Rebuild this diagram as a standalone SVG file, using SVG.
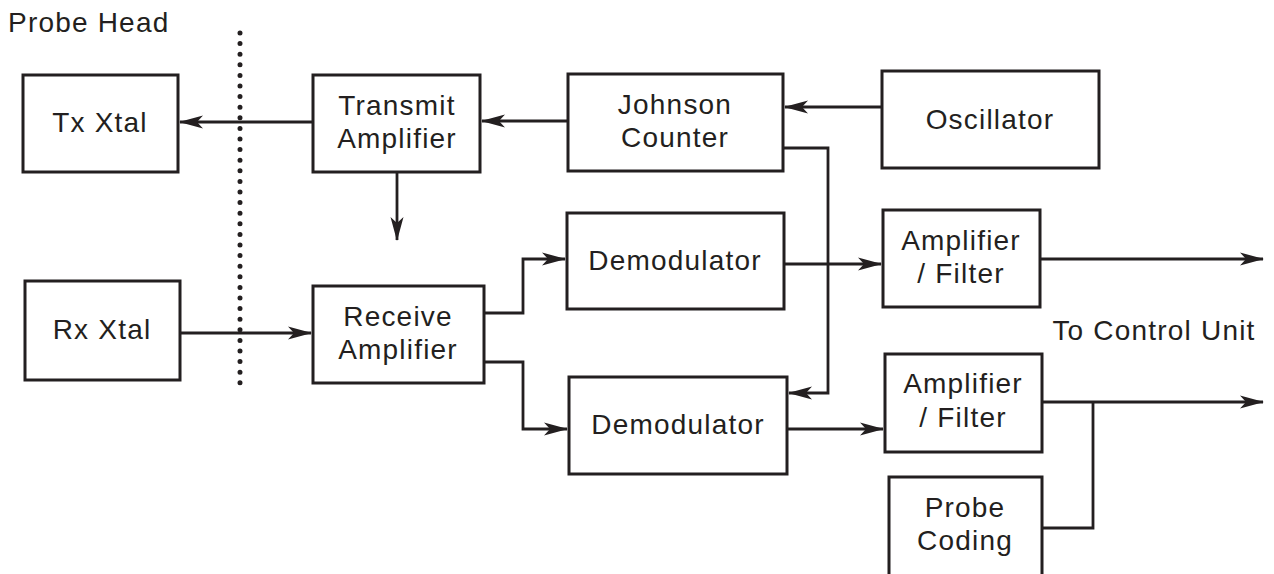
<svg xmlns="http://www.w3.org/2000/svg" width="1274" height="574" viewBox="0 0 1274 574">
<style>
.box{fill:#fff;stroke:#231f20;stroke-width:3}
.t{font-family:"Liberation Sans",Arial,sans-serif;font-size:28px;fill:#231f20;text-anchor:middle;letter-spacing:1.2px}
.w{fill:none;stroke:#231f20;stroke-width:2.8}
</style>
<defs>
<marker id="ah" viewBox="0 0 24 14" refX="23" refY="7" markerWidth="24" markerHeight="14" markerUnits="userSpaceOnUse" orient="auto">
<path d="M0,0.5 L24,7 L0,13.5 L6,7 Z" fill="#231f20"/>
</marker>
</defs>
<rect width="1274" height="574" fill="#fff"/>
<text class="t" x="8" y="32" style="text-anchor:start">Probe Head</text>
<text class="t" x="1154" y="340">To Control Unit</text>
<line x1="240" y1="33" x2="240" y2="393" stroke="#231f20" stroke-width="5" stroke-linecap="round" stroke-dasharray="0 10.6"/>
<g id="connectors">
<path class="w" d="M313,122 H180" marker-end="url(#ah)"/>
<path class="w" d="M568,121 H482" marker-end="url(#ah)"/>
<path class="w" d="M882,107 H785" marker-end="url(#ah)"/>
<path class="w" d="M397,172 V240" marker-end="url(#ah)"/>
<path class="w" d="M783,148 H828 V393 H789" marker-end="url(#ah)"/>
<path class="w" d="M180,333 H311" marker-end="url(#ah)"/>
<path class="w" d="M484,313 H523 V259 H565" marker-end="url(#ah)"/>
<path class="w" d="M484,362 H523 V429 H567" marker-end="url(#ah)"/>
<path class="w" d="M784,264 H881" marker-end="url(#ah)"/>
<path class="w" d="M787,429 H883" marker-end="url(#ah)"/>
<path class="w" d="M1040,259 H1263" marker-end="url(#ah)"/>
<path class="w" d="M1042,402 H1263" marker-end="url(#ah)"/>
<path class="w" d="M1042,528 H1093 V402"/>
</g>
<g id="tx-xtal"><rect class="box" x="23" y="75" width="155" height="97"/><text class="t" x="100" y="132">Tx Xtal</text></g>
<g id="transmit-amplifier"><rect class="box" x="313" y="75" width="167" height="97"/><text class="t" x="397" y="115">Transmit</text><text class="t" x="397" y="148">Amplifier</text></g>
<g id="johnson-counter"><rect class="box" x="568" y="74" width="215" height="97"/><text class="t" x="675" y="114">Johnson</text><text class="t" x="675" y="147">Counter</text></g>
<g id="oscillator"><rect class="box" x="882" y="71" width="217" height="97"/><text class="t" x="990" y="129">Oscillator</text></g>
<g id="demodulator-1"><rect class="box" x="567" y="213" width="217" height="96"/><text class="t" x="675" y="270">Demodulator</text></g>
<g id="amp-filter-1"><rect class="box" x="883" y="210" width="157" height="97"/><text class="t" x="961" y="250">Amplifier</text><text class="t" x="961" y="283">/ Filter</text></g>
<g id="rx-xtal"><rect class="box" x="25" y="281" width="155" height="99"/><text class="t" x="102" y="339">Rx Xtal</text></g>
<g id="receive-amplifier"><rect class="box" x="313" y="286" width="171" height="97"/><text class="t" x="398" y="326">Receive</text><text class="t" x="398" y="359">Amplifier</text></g>
<g id="demodulator-2"><rect class="box" x="569" y="377" width="218" height="97"/><text class="t" x="678" y="434">Demodulator</text></g>
<g id="amp-filter-2"><rect class="box" x="885" y="354" width="157" height="98"/><text class="t" x="963" y="393">Amplifier</text><text class="t" x="963" y="427">/ Filter</text></g>
<g id="probe-coding"><rect class="box" x="889" y="477" width="153" height="100"/><text class="t" x="965" y="517">Probe</text><text class="t" x="965" y="550">Coding</text></g>
</svg>
